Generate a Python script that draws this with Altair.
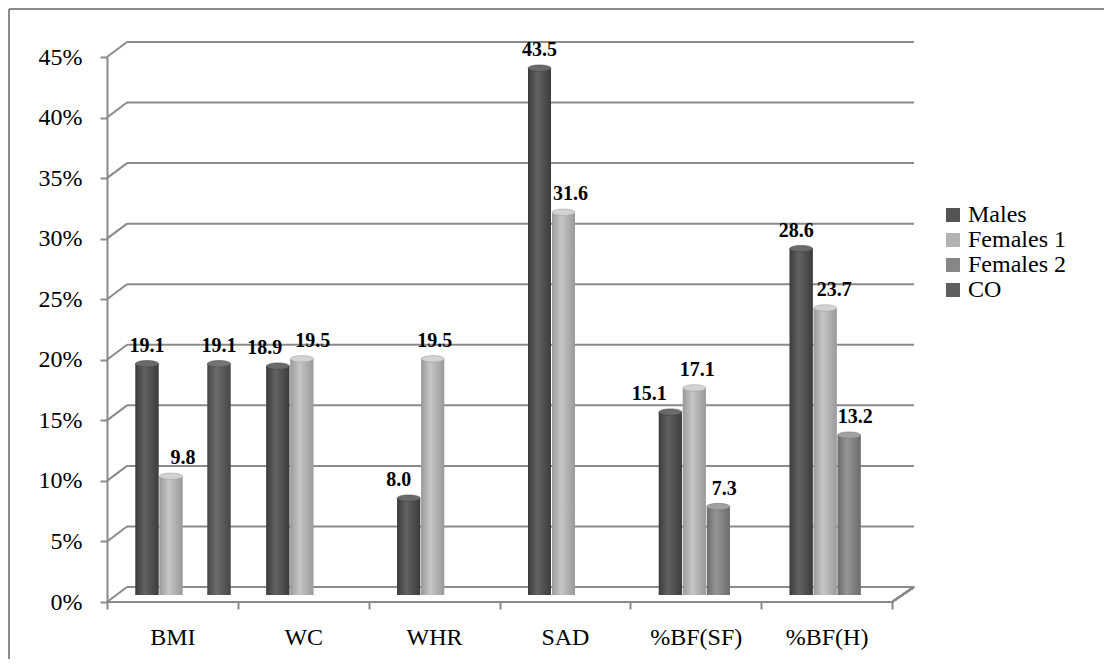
import altair as alt
import pandas as pd

categories = ["BMI", "WC", "WHR", "SAD", "%BF(SF)", "%BF(H)"]
series = ["Males", "Females 1", "Females 2", "CO"]
males = [19.1, 18.9, 8.0, 43.5, 15.1, 28.6]
females1 = [9.8, 19.5, 19.5, 31.6, 17.1, 23.7]
females2 = [None, None, None, None, 7.3, 13.2]
co = [19.1, None, None, None, None, None]
y_ticks = [0, 5, 10, 15, 20, 25, 30, 35, 40, 45]

# horizontal nudges of the value labels (layout only), per series
nudge_males = [0, -13, -10, 0, -21, -5]
nudge_females1 = [12, 11, 2, 7, 3, 9]
nudge_females2 = [0, 0, 0, 0, 6, 6]
nudge_co = [0, 0, 0, 0, 0, 0]

legend_colors = ["#545454", "#b3b3b3", "#878787", "#5f5f5f"]
edge_colors = ["#3c3c3c", "#9a9a9a", "#6c6c6c", "#474747"]
mid_colors = ["#626262", "#c6c6c6", "#959595", "#6c6c6c"]
top_colors = ["#6a6a6a", "#d2d2d2", "#a0a0a0", "#737373"]

rows = []
for s, vals, nud in zip(series, [males, females1, females2, co],
                        [nudge_males, nudge_females1, nudge_females2, nudge_co]):
    for c, v, n in zip(categories, vals, nud):
        if v is not None:
            rows.append({"category": c, "series": s, "value": v, "nudge": n})
df = pd.DataFrame(rows)
grid_df = pd.DataFrame({"v": y_ticks})

W, H = 785, 545
FONT = "Liberation Serif"
FS = 24
DY = -7
GRAY = "#8a8a8a"

y_axis = alt.Axis(values=y_ticks, labelExpr="datum.value + '%'",
                  labelFontSize=FS, labelFont=FONT, labelColor="#000",
                  domainColor=GRAY, domainWidth=2, tickColor=GRAY,
                  tickWidth=2, tickSize=7, labelPadding=18, grid=False)
y_scale = alt.Scale(domain=[0, 45], nice=False, zero=True)

x_enc = alt.X("category:N", sort=categories,
              scale=alt.Scale(domain=categories, paddingInner=0, paddingOuter=0),
              axis=alt.Axis(title=None, labelFontSize=FS, labelFont=FONT, labelColor="#000",
                            labelAngle=0, domain=False, ticks=True, tickColor=GRAY, tickWidth=2,
                            tickSize=7, tickBand="extent", labelPadding=16, grid=False))
y_enc = alt.Y("value:Q", scale=y_scale, title=None, axis=y_axis)
xoff = alt.XOffset("series:N", sort=series,
                   scale=alt.Scale(domain=series, range=[28, 124],
                                   paddingInner=0, paddingOuter=0))

# back grid lines
grid = alt.Chart(grid_df).mark_rule(color=GRAY, strokeWidth=2, yOffset=-15, y2Offset=-15).encode(
    y=alt.Y("v:Q", scale=y_scale, title=None, axis=y_axis),
    x=alt.value(20), x2=alt.value(W + 22),
)
connectors = alt.Chart(grid_df).mark_rule(color=GRAY, strokeWidth=2, y2Offset=-15).encode(
    y=alt.Y("v:Q", scale=y_scale, axis=y_axis), y2="v:Q",
    x=alt.value(0), x2=alt.value(20),
)
floor_front = alt.Chart(grid_df).mark_rule(color=GRAY, strokeWidth=2).encode(
    x=alt.value(0), x2=alt.value(W), y=alt.value(H))
floor_right = alt.Chart(grid_df).mark_rule(color=GRAY, strokeWidth=2).encode(
    x=alt.value(W), x2=alt.value(W + 22), y=alt.value(H), y2=alt.value(H - 15))
border_top = alt.Chart(grid_df).mark_rule(color=GRAY, strokeWidth=2).encode(
    x=alt.value(-98), x2=alt.value(1000), y=alt.value(-48))
border_left = alt.Chart(grid_df).mark_rule(color=GRAY, strokeWidth=2).encode(
    x=alt.value(-98), y=alt.value(-48), y2=alt.value(610))

base = alt.Chart(df)
legend_bars = base.mark_bar(width=23, yOffset=DY, y2Offset=DY).encode(
    x=x_enc, xOffset=xoff, y=y_enc, y2=alt.datum(0),
    color=alt.Color("series:N", sort=series,
                    scale=alt.Scale(domain=series, range=legend_colors),
                    legend=alt.Legend(title=None, orient="none", legendX=834, legendY=146,
                                      labelFontSize=FS, labelFont=FONT, labelColor="#000",
                                      symbolType="square", symbolSize=196, symbolStrokeWidth=0,
                                      rowPadding=1, labelOffset=3)),
)

layers = [grid, connectors, floor_front, floor_right, border_top, border_left, legend_bars]
for s, e, m, t in zip(series, edge_colors, mid_colors, top_colors):
    grad = alt.Gradient(gradient="linear",
                        stops=[alt.GradientStop(color=e, offset=0),
                               alt.GradientStop(color=m, offset=0.4),
                               alt.GradientStop(color=e, offset=1)],
                        x1=0, x2=1, y1=0, y2=0)
    sub = base.transform_filter(alt.datum.series == s)
    layers.append(sub.mark_bar(width=23, yOffset=DY, y2Offset=DY, color=grad).encode(
        x=x_enc, xOffset=xoff, y=y_enc, y2=alt.datum(0)))
    layers.append(sub.mark_point(shape="M -1 0 A 1 0.28 0 1 1 1 0 A 1 0.28 0 1 1 -1 0 Z",
                                 size=529, filled=True, opacity=1, fill=t, stroke=e, strokeWidth=0.5,
                                 yOffset=DY).encode(
        x=x_enc, xOffset=xoff, y=y_enc))

# value labels, horizontally nudged per label group
for n in sorted(df["nudge"].unique()):
    sub = base.transform_filter(alt.datum.nudge == int(n))
    layers.append(sub.mark_text(
        font=FONT, fontSize=20, fontWeight="bold", color="#000",
        dx=int(n), yOffset=DY, dy=-18, baseline="middle").encode(
        x=x_enc, xOffset=xoff, y=y_enc, text=alt.Text("value:Q", format=".1f")))

chart = alt.layer(*layers).properties(
    width=W, height=H,
    autosize=alt.AutoSizeParams(type="none"),
    padding={"left": 99, "top": 49, "right": 212, "bottom": 57},
    background="white",
).configure_view(stroke=None).configure_legend(
    labelFont=FONT, labelFontSize=FS, labelColor="#000"
).configure_axis(labelFont=FONT).configure_text(font=FONT)

chart.save("out.html", embed_options={"renderer": "svg", "actions": False})
